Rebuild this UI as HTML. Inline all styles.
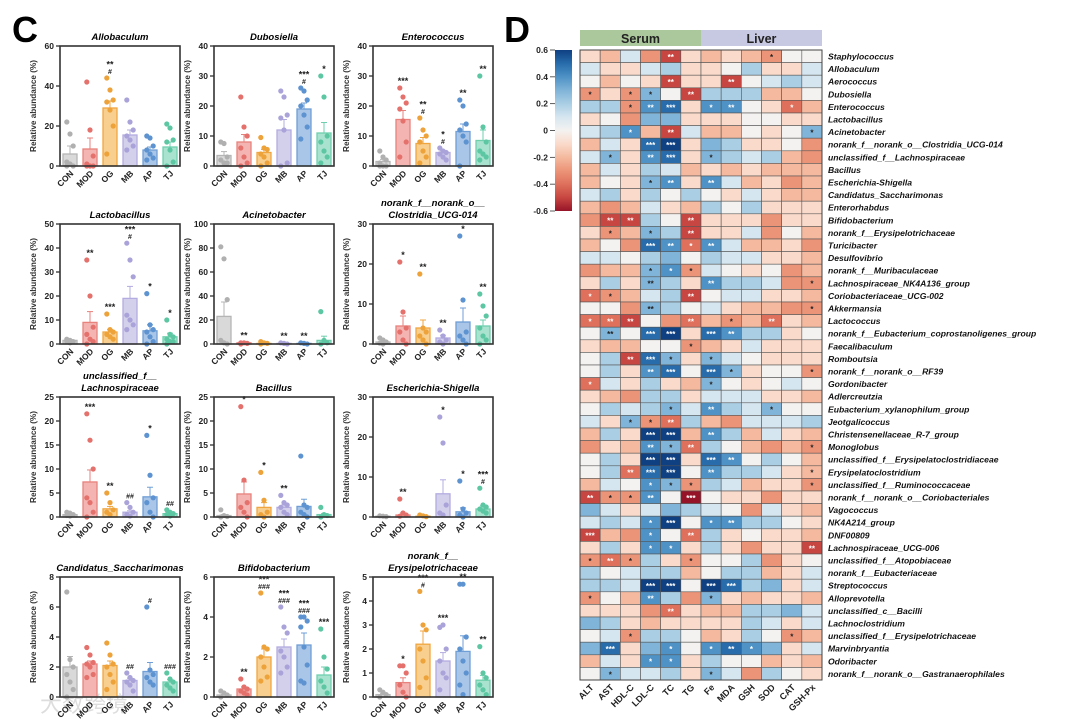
<!DOCTYPE html>
<html><head><meta charset="utf-8">
<style>
html,body{margin:0;padding:0;background:#fff;}
svg{display:block;font-family:"Liberation Sans",Arial,sans-serif;}
</style></head>
<body>
<svg id="fig" width="1080" height="722" viewBox="0 0 1080 722" xmlns="http://www.w3.org/2000/svg">
<text x="12" y="42" font-size="36" font-weight="bold">C</text>
<text x="504" y="42" font-size="36" font-weight="bold">D</text>
<text x="40" y="712" font-size="22" fill="#ddd" font-family="'Liberation Sans','Noto Sans CJK SC',sans-serif">大数跨境</text>
<g id="bars"></g>
<g id="heat"></g>
</svg>
<script>
const groups = ["CON","MOD","OG","MB","AP","TJ"];
const titles = [["Allobaculum"],["Dubosiella"],["Enterococcus"],["Lactobacillus"],["Acinetobacter"],["norank_f__norank_o__","Clostridia_UCG-014"],["unclassified_f__","Lachnospiraceae"],["Bacillus"],["Escherichia-Shigella"],["Candidatus_Saccharimonas"],["Bifidobacterium"],["norank_f__","Erysipelotrichaceae"]];
const yMax = [60,40,40,50,100,30,25,25,30,8,6,5];
const yStep = [20,10,10,10,20,10,5,5,10,2,2,1];
const means = [
 [6,8.5,29,15.5,8,9.5],[3.5,8,4.5,12,19,11],[1.5,15.5,7.5,4.5,11.5,8.5],
 [1.5,9,5,19,5.5,3],[23,1,0.5,0.5,0.5,3],[0.5,4.5,4,1.5,5.5,4.5],
 [0.5,7.3,1.7,1,4.2,0.7],[0.3,4.8,2,2,2.2,0.5],[0.2,0.5,0.2,5.8,1.3,2],
 [2,2.2,2.1,1.1,1.7,1],[0.1,0.4,2,2.5,2.6,1.1],[0.1,0.6,2.2,1.5,1.9,0.7]];
const sems = [
 [4,5.5,3.5,2.5,1.5,2.5],[1.3,2.5,1,3.5,2,3.5],[0.7,3,2,0.7,2.5,3.5],
 [0.3,4.5,1,5,2.5,1.5],[12,0.3,0.3,0.3,0.3,3.5],[0.2,2.5,2,0.7,3.5,1.5],
 [0.1,2.5,0.5,0.3,2,0.2],[0.2,2.5,1,0.5,1.5,0.2],[0.1,0.5,0.1,3.5,1,0.8],
 [0.7,0.2,0.3,0.15,0.6,0.15],[0.03,0.1,0.4,0.4,0.6,0.4],[0.05,0.2,0.55,0.35,0.65,0.2]];
const points = [
 [[22,16,10,2,1,0,0],[42,18,5,1,0,0,0],[44,38,33,32,28,20,6],[33,22,18,15,13,10,8],[15,14,10,8,6,4,3],[21,19,13,12,8,2,0]],
 [[8,7.5,3,2,1,1],[23,13,10,6,3,1,0],[9.5,6,5.5,4,3,1,0],[25,23,17,16,12,1,0],[26,25,22,20,17,13,9],[30,23,10,8,5,3,1]],
 [[5,3,2,1,0,0,0],[26,23,21,19,15,8,3],[16,12,10,8,5,3,1],[6,5,4.5,4,3,2],[22,20,14,12,10,8,0],[30,13,8,5,4,3,2]],
 [[2,1.5,1,1,0.5],[35,20,7,4,2,1,0],[12.5,6,5,4,3,2],[42,35,28,12,10,8,6],[21,8,6,5,3,1,0],[10,4,3,2,1,1,0]],
 [[81,71,37,3,1,0],[1,1,0.5,0],[2,1,0.5,0],[1,0.5,0],[1,0.5,0],[27,3,1,0]],
 [[1.5,1,0.5,0.2,0],[20.5,8,4,3,1,0],[17.5,4,3,2,1,0],[3.5,2,1,0.5,0],[27,11,3,2,1,0],[12.5,9.5,7,4,2,1,0]],
 [[1,0.8,0.5,0.3,0.2],[21.5,16,10,4,3,1,0],[5,3,1.5,1,0.5],[3,2,1,0.5,0.2],[17,8.7,4,3,1,0],[1.5,1,0.7,0.5,0.2]],
 [[1.5,0.3,0.1,0],[23,7.7,3,2,1,0],[9.3,3.5,1,0.5,0],[4.5,3,2.5,2,1,0.5],[12.7,2.5,2,1,0.5,0],[2,0.5,0.3,0]],
 [[0.3,0.2,0.1],[4.5,1,0.5,0.2],[0.5,0.3,0.1],[25,18.5,3,1,0.5],[9,2,1,0.5,0],[7.2,3,2.5,2,1.5,1]],
 [[7,2.5,2,1.5,1,0.5,0],[3.3,2.8,2.3,2.2,2,1.5,1.3],[3.6,2.8,2.2,2,1.5,1,0.5],[1.6,1.3,1.1,1,0.8,0.4],[6,1.8,1.5,1.3,1,0.8],[1.6,1.2,1,0.8,0.6,0.4]],
 [[0.3,0.2,0.1,0],[0.9,0.5,0.4,0.3,0.2,0.1],[5.2,2.5,2.4,2,1.5,1,0.8],[4.5,3.5,3.2,2.3,2,1.5,1.2],[4,4,3.8,3.5,2.5,1.6,0.8,0.7],[3.4,2,1.4,0.8,0.5,0.2]],
 [[0.3,0.2,0.1,0],[1.3,1.3,1,0.5,0.2,0],[4.4,3,2.8,2,1.5,0.8,0.4],[2.9,3,2,1.5,1,0.8,0.3],[4.7,4.7,2.5,2,1.5,1,0.5,0.1],[2.1,1,0.8,0.5,0.3,0.1]]];
const annots = [
 ["","","**|#","","",""],["","","","","***|#","*"],["","***","**|#","*|#","**","**"],
 ["","**","***","***|#","*","*"],["","**","","**","**",""],["","*","**","**","*","**"],
 ["","***","**","##","*","##"],["","*","*","**","",""],["","**","","*","*","***|#"],
 ["","","","##","#","###"],["","**","***|###","***|###","***|###","***"],["","*","***|#","***","**","**"]];

const fills=["#d9d9d9","#f4b5b2","#f8cf8e","#d3d0ec","#a9c6e8","#a9e3cf"];
const edges=["#b5b5b5","#e8827d","#f0a640","#b3ace0","#6f9fd6","#6fcfad"];
const dots=["#b0b0b0","#e5716c","#eea23a","#aaa3d9","#5d93d0","#5cc7a2"];
const colX=[60,214,373], rowY=[46,224,397,577], PW=120, PH=120;
const NS="http://www.w3.org/2000/svg";
function mk(tag,attrs,parent,txt){const e=document.createElementNS(NS,tag);for(const k in attrs)e.setAttribute(k,attrs[k]);if(txt!==undefined)e.textContent=txt;parent.appendChild(e);return e;}

const barsG=document.getElementById('bars');
titles.forEach((t,p)=>{
  const x0=colX[p%3], y0=rowY[Math.floor(p/3)];
  const g=mk('g',{},barsG);
  
  
  const ys=v=>y0+PH-v/yMax[p]*PH;
  const xs=i=>x0+PW/6*(i+0.5);
  t.forEach((line,li)=>{
    const tt=mk('text',{x:x0+PW/2,y:y0-6-(t.length-1-li)*12,'text-anchor':'middle','font-size':9.5,'font-weight':'bold','font-style':'italic'},g,line);
    
    
  });
  const yl=mk('text',{x:0,y:0,transform:`translate(${x0-24},${y0+PH/2}) rotate(-90)`,'text-anchor':'middle','font-size':8.2,'font-weight':'bold',fill:'#333'},g,'Relative abundance (%)');
  
  
  for(let v=0;v<=yMax[p]+1e-9;v+=yStep[p]){
    mk('line',{x1:x0-4,x2:x0,y1:ys(v),y2:ys(v),stroke:'#222','stroke-width':1.2},g);
    const tl=mk('text',{x:x0-6,y:ys(v)+3,'text-anchor':'end','font-size':8.5,'font-weight':'bold',fill:'#222'},g,String(Math.round(v*10)/10));
    
    
  }
  groups.forEach((gname,i)=>{
    const bw=14, m=means[p][i], s=sems[p][i];
    const b=mk('rect',{x:xs(i)-bw/2,y:ys(m),width:bw,height:Math.max(0,ys(0)-ys(m)),fill:fills[i],stroke:edges[i],'stroke-width':1.3},g);
    
    
    mk('line',{x1:xs(i),x2:xs(i),y1:ys(m),y2:ys(m+s),stroke:edges[i],'stroke-width':1},g);
    mk('line',{x1:xs(i)-3,x2:xs(i)+3,y1:ys(m+s),y2:ys(m+s),stroke:edges[i],'stroke-width':1},g);
    const pts=points[p][i];
    pts.forEach((v,k)=>{
      const dx=((k%3)-1)*3.2;
      const c=mk('circle',{cx:xs(i)+dx,cy:ys(v),r:2.6,fill:dots[i]},g);
      
      
    });
    const an=annots[p][i];
    if(an){
      const parts=an.split('|');
      const top=Math.min(ys(Math.max(...pts)),ys(m+s));
      parts.forEach((a,k)=>{
        const at=mk('text',{x:xs(i),y:top-4-(parts.length-1-k)*6.5,'text-anchor':'middle','font-size':a[0]=='#'?7:9,'font-weight':'bold',fill:'#222'},g,a);
        
        
      });
    }
    const xl=mk('text',{x:0,y:0,transform:`translate(${xs(i)+4},${y0+PH+8}) rotate(-45)`,'text-anchor':'end','font-size':8.5,'font-weight':'bold',fill:'#222'},g,gname);
    
    
  });
  mk('rect',{x:x0,y:y0,width:PW,height:PH,fill:'none',stroke:'#333','stroke-width':1.6},g);
});

// ---------- heatmap ----------
const taxa=["Staphylococcus","Allobaculum","Aerococcus","Dubosiella","Enterococcus","Lactobacillus","Acinetobacter","norank_f__norank_o__Clostridia_UCG-014","unclassified_f__Lachnospiraceae","Bacillus","Escherichia-Shigella","Candidatus_Saccharimonas","Enterorhabdus","Bifidobacterium","norank_f__Erysipelotrichaceae","Turicibacter","Desulfovibrio","norank_f__Muribaculaceae","Lachnospiraceae_NK4A136_group","Coriobacteriaceae_UCG-002","Akkermansia","Lactococcus","norank_f__Eubacterium_coprostanoligenes_group","Faecalibaculum","Romboutsia","norank_f__norank_o__RF39","Gordonibacter","Adlercreutzia","Eubacterium_xylanophilum_group","Jeotgalicoccus","Christensenellaceae_R-7_group","Monoglobus","unclassified_f__Erysipelatoclostridiaceae","Erysipelatoclostridium","unclassified_f__Ruminococcaceae","norank_f__norank_o__Coriobacteriales","Vagococcus","NK4A214_group","DNF00809","Lachnospiraceae_UCG-006","unclassified_f__Atopobiaceae","norank_f__Eubacteriaceae","Streptococcus","Alloprevotella","unclassified_c__Bacilli","Lachnoclostridium","unclassified_f__Erysipelotrichaceae","Marvinbryantia","Odoribacter","norank_f__norank_o__Gastranaerophilales"];
const indices=["ALT","AST","HDL-C","LDL-C","TC","TG","Fe","MDA","GSH","SOD","CAT","GSH-Px"];
const corr=[
[-1,-2,1,-3,-5,-1,-2,-1,-2,-3,0,0],[1,-1,-1,1,2,-1,-1,0,2,-1,-1,1],[0,-2,0,-1,-5,-1,-1,-5,0,1,2,1],
[-3,-1,-3,3,0,-5,2,2,2,-2,-2,0],[2,2,-3,4,5,-1,4,4,0,-1,-4,-2],[-1,0,-3,3,3,-1,-1,-1,0,0,-1,-1],
[1,2,4,-2,-5,1,-2,-2,0,-1,0,3],[-2,1,-1,5,6,-1,3,2,-1,-1,0,-3],[1,3,-1,4,5,-1,3,2,1,2,-2,-3],
[-2,1,-1,2,1,-2,-1,-2,-1,-2,-2,-2],[-2,0,-1,3,4,-1,4,1,-2,-1,-3,-2],[1,2,-1,2,0,2,0,-1,1,-1,-2,-2],
[-2,-3,-2,1,-1,-2,2,0,2,-1,-1,-1],[-3,-5,-5,2,0,-5,-1,-1,-1,-3,-1,-1],[-1,-3,-2,3,2,-5,-1,-1,1,-3,0,-2],
[-2,0,-3,5,4,-4,4,1,-2,-2,-1,-3],[1,1,0,2,3,0,2,1,1,-1,-1,-2],[-3,-2,-2,3,4,-3,1,0,-1,0,-3,-2],
[-1,2,-1,3,2,-1,4,2,2,1,-3,-3],[-4,-3,-2,1,2,-5,0,1,1,-1,-1,-2],[0,0,-3,3,2,0,1,-1,-2,-2,-3,-3],
[-4,-4,-5,0,-3,-4,-2,-3,-2,-4,-1,-2],[0,3,0,5,6,-1,5,4,2,2,-1,0],[-1,-2,-2,0,0,-3,-2,-1,1,-1,-1,-1],
[0,2,-5,5,3,-1,3,1,0,-1,-1,-1],[0,2,-1,4,5,0,5,3,-1,0,0,-3],[-4,1,-1,2,-1,-2,3,0,-1,0,1,0],
[-1,-2,-3,2,2,-1,1,1,1,-1,-1,-2],[0,2,1,2,3,1,4,2,1,3,0,0],[1,-1,3,-3,-4,2,-2,-3,1,1,1,2],
[-2,2,-1,6,6,-2,4,2,-2,1,-1,-2],[-3,-1,-2,4,3,-4,2,0,-2,-3,-2,-3],[0,2,-1,6,6,-1,5,4,0,2,0,-2],
[0,2,-4,5,6,0,4,2,2,1,-1,-2],[-2,1,0,4,3,-3,2,1,-2,-1,-1,-3],[-5,-3,-3,4,0,-6,0,-1,-1,-3,-1,-1],
[3,1,-1,1,3,2,1,0,-3,1,-1,-2],[1,2,1,4,6,0,4,4,2,2,0,-1],[-5,-2,-3,4,0,-4,2,-1,0,-1,-1,-2],
[-1,2,-1,4,4,-1,2,-1,-3,-1,-1,-5],[-3,-4,-3,2,-1,-3,0,0,2,-3,-1,0],[2,0,1,2,2,-2,0,2,2,-2,-1,1],
[2,2,1,6,6,0,6,5,2,3,-1,1],[-3,0,-2,4,2,-3,3,-1,-2,-1,-1,-2],[-1,-1,-1,-3,-4,-1,-2,-2,2,2,3,1],
[3,2,-1,-2,-1,-1,-1,-1,2,1,-1,1],[0,1,-3,2,2,0,-2,-1,2,0,-3,-2],[3,5,-1,3,4,0,4,5,4,3,-1,1],
[-2,1,-1,4,4,-1,2,0,0,-2,-1,-2],[0,3,1,1,2,-1,3,1,-3,2,0,-1]];
const stars=[
"4:**,9:*","","4:**,7:**","0:*,2:*,3:*,5:**","2:*,3:**,4:***,6:*,7:**,10:*","","2:*,4:**,11:*","3:***,4:***","1:*,3:**,4:***,6:*",
"","3:*,4:**,6:**","","","1:**,2:**,5:**","1:*,3:*,5:**","3:***,4:**,5:*,6:**","","3:*,4:*,5:*","3:**,6:**,11:*","0:*,1:*,5:**","3:**,11:*",
"0:*,1:**,2:**,5:**,7:*,9:**","1:**,3:***,4:***,6:***,7:**","5:*","2:**,3:***,4:*,6:*","3:**,4:***,6:***,7:*,11:*","0:*,6:*","","4:*,6:**,9:*","2:*,3:*,4:**",
"3:***,4:***,6:**","3:**,4:*,5:**,11:*","3:***,4:***,6:***,7:**","2:**,3:***,4:***,6:**,11:*","3:*,4:*,5:*,11:*","0:**,1:*,2:*,3:**,5:***",
"","3:*,4:***,6:*,7:**","0:***,3:*,5:**","3:*,4:*,11:**","0:*,1:**,2:*,5:*","","3:***,4:***,6:***,7:***","0:*,3:**,6:*","4:**","","2:*,10:*","1:***,4:*,6:*,7:**,8:*","3:*,4:*","1:*,6:*"];

const stops=[[-6,[150,20,40]],[-5,[200,70,65]],[-4,[222,112,92]],[-3,[236,148,120]],[-2,[244,185,158]],[-1,[250,218,202]],[0,[244,242,240]],[1,[214,230,240]],[2,[170,206,228]],[3,[128,180,216]],[4,[78,146,198]],[5,[40,108,172]],[6,[14,64,130]]];
function col(v){v=Math.max(-6,Math.min(6,v));for(let i=0;i<stops.length-1;i++){const a=stops[i],b=stops[i+1];if(v<=b[0]){const t=(v-a[0])/(b[0]-a[0]);const c=a[1].map((x,k)=>Math.round(x+(b[1][k]-x)*t));return `rgb(${c})`;}}return 'rgb(14,64,130)';}

const H=document.getElementById('heat');
const hx0=580,hy0=50,cw=(822-580)/12,ch=(680-50)/50;
const cs=mk('rect',{x:hx0,y:30,width:cw*6,height:16,fill:'#abc89c'},H);


const cl=mk('rect',{x:hx0+cw*6,y:30,width:cw*6,height:16,fill:'#c7c8e2'},H);


mk('text',{x:hx0+cw*3,y:43,'text-anchor':'middle','font-size':12.5,'font-weight':'bold',fill:'#222'},H,'Serum');
mk('text',{x:hx0+cw*9,y:43,'text-anchor':'middle','font-size':12.5,'font-weight':'bold',fill:'#222'},H,'Liver');
corr.forEach((row,r)=>{
  const sm={};(stars[r]||"").split(',').filter(Boolean).forEach(s=>{const [c,v]=s.split(':');sm[c]=v;});
  row.forEach((v,c)=>{
    const cell=mk('rect',{x:hx0+c*cw,y:hy0+r*ch,width:cw,height:ch,fill:col(v),stroke:'#555','stroke-width':0.6},H);
    
    
    if(sm[c]){
      const st=mk('text',{x:hx0+(c+0.5)*cw,y:hy0+(r+0.5)*ch+3.6,'text-anchor':'middle','font-size':8,'font-weight':'bold',fill:Math.abs(v)>=4?'#fff':'#222'},H,sm[c]);
      
      
    }
  });
  const lb=mk('text',{x:828,y:hy0+(r+0.5)*ch+3.2,'font-size':8.6,'font-weight':'bold','font-style':'italic',fill:'#111'},H,taxa[r]);
  
  
});
mk('rect',{x:hx0,y:hy0,width:cw*12,height:ch*50,fill:'none',stroke:'#444','stroke-width':1},H);
indices.forEach((n,c)=>{
  const t=mk('text',{x:0,y:0,transform:`translate(${hx0+(c+0.5)*cw+4},${688}) rotate(-45)`,'text-anchor':'end','font-size':9,'font-weight':'bold',fill:'#222'},H,n);
  
  
});
// colorbar
const cbTicks=[0.6,0.4,0.2,0,-0.2,-0.4,-0.6];
const cbY=v=>50+(0.6-v)/1.2*161;
const defs=mk('defs',{},H);
const lg=mk('linearGradient',{id:'cbg',x1:0,y1:0,x2:0,y2:1},defs);
for(let k=0;k<=12;k++){mk('stop',{offset:(k/12),'stop-color':col(6-k)},lg);}
const cb=mk('rect',{x:555,y:50,width:17,height:161,fill:'url(#cbg)'},H);


cbTicks.forEach(v=>{
  mk('line',{x1:550,x2:555,y1:cbY(v),y2:cbY(v),stroke:'#333','stroke-width':0.8},H);
  const t=mk('text',{x:548,y:cbY(v)+3,'text-anchor':'end','font-size':8.5,'font-weight':'bold',fill:'#222'},H,String(v));
  
  
});
</script>
</body></html>
